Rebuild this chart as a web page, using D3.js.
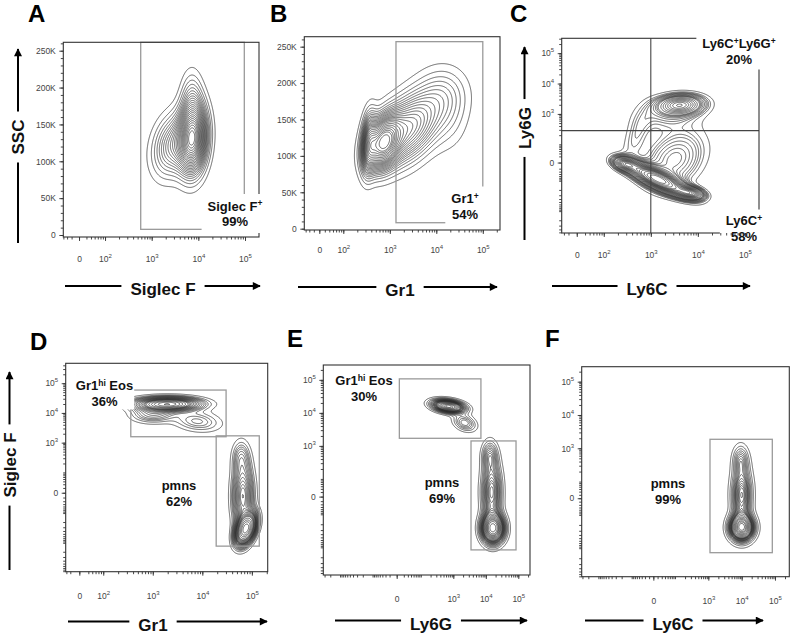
<!DOCTYPE html>
<html><head><meta charset="utf-8">
<script src="https://cdn.jsdelivr.net/npm/d3@7"></script>
<style>
body{margin:0;background:#fff}
svg{display:block}
text{font-family:"Liberation Sans",Arial,Helvetica,sans-serif}
</style>
</head><body>
<svg id="c" width="794" height="636"></svg>
<script>
// ===================== DATA =====================
const panelLetters = ["A","B","C","D","E","F"];
const xTitles = ["Siglec F","Gr1","Ly6C","Gr1","Ly6G","Ly6C"];
const yTitles = ["SSC", null, "Ly6G", "Siglec F", null, null];

// display units: decades (log / biexponential axes) or thousands (SSC)
const xDomains = [[1.106,5.30],[1.161,5.37],[1.106,5.30],[1.242,5.32],[-1.0,5.36],[-0.8,5.43]];
const yDomains = [[-2.7,261.4],[-1.8,263.7],[-0.92,5.49],[-1.34,5.67],[-0.91,5.45],[-0.856,5.45]];
const xZero = [1.443,1.484,1.426,1.517,1.258,1.35];
const yZero = [null,null,1.40,1.316,1.464,1.5];

const xTickLabels = [
  [[1.443,"0"],[2,"10^2"],[3,"10^3"],[4,"10^4"],[5,"10^5"]],
  [[1.484,"0"],[2,"10^2"],[3,"10^3"],[4,"10^4"],[5,"10^5"]],
  [[1.426,"0"],[2,"10^2"],[3,"10^3"],[4,"10^4"],[5,"10^5"]],
  [[1.517,"0"],[2,"10^2"],[3,"10^3"],[4,"10^4"],[5,"10^5"]],
  [[1.258,"0"],[3,"10^3"],[4,"10^4"],[5,"10^5"]],
  [[1.35,"0"],[3,"10^3"],[4,"10^4"],[5,"10^5"]]
];
const sscTickLabels = [[0,"0"],[50,"50K"],[100,"100K"],[150,"150K"],[200,"200K"],[250,"250K"]];
const yTickLabels = [
  sscTickLabels, sscTickLabels,
  [[1.40,"0"],[3,"10^3"],[4,"10^4"],[5,"10^5"]],
  [[1.316,"0"],[3,"10^3"],[4,"10^4"],[5,"10^5"]],
  [[1.464,"0"],[3,"10^3"],[4,"10^4"],[5,"10^5"]],
  [[1.5,"0"],[3,"10^3"],[4,"10^4"],[5,"10^5"]]
];

// populations: gaussian components (x, y in display units)
const popA = [
  {cx:3.88, cy:130, sx:0.19, sy:29, rho:0.10, w:1.0},
  {cx:3.45, cy:122, sx:0.27, sy:27, rho:0.25, w:0.35},
  {cx:3.86, cy:182, sx:0.15, sy:26, rho:0.00, w:0.18}
];
const popB = [
  {cx:2.85, cy:118, sx:0.22, sy:22, rho:0.30, w:1.0},
  {cx:2.55, cy:118, sx:0.10, sy:26, rho:0.20, w:0.5},
  {cx:3.40, cy:138, sx:0.45, sy:32, rho:0.45, w:0.6},
  {cx:4.15, cy:188, sx:0.35, sy:24, rho:0.00, w:0.12},
  {cx:4.30, cy:150, sx:0.28, sy:30, rho:0.10, w:0.08}
];
const popC = [
  {cx:3.62, cy:3.30, sx:0.30, sy:0.20, rho:0.1, w:0.45},
  {cx:3.40, cy:3.00, sx:0.45, sy:0.35, rho:0.2, w:0.10},
  {cx:3.15, cy:0.85, sx:0.38, sy:0.32, rho:-0.8, w:1.0},
  {cx:3.50, cy:1.50, sx:0.40, sy:0.60, rho:0.3, w:0.2},
  {cx:2.45, cy:1.35, sx:0.16, sy:0.14, rho:-0.3, w:0.4},
  {cx:3.85, cy:0.40, sx:0.18, sy:0.13, rho:-0.3, w:0.45},
  {cx:2.70, cy:2.30, sx:0.20, sy:0.60, rho:0.6, w:0.08}
];
const popD = [
  {cx:3.30, cy:4.30, sx:0.40, sy:0.14, rho:0.0, w:1.0},
  {cx:3.90, cy:3.72, sx:0.30, sy:0.22, rho:-0.2, w:0.2},
  {cx:3.00, cy:3.95, sx:0.28, sy:0.18, rho:0.0, w:0.25},
  {cx:4.88, cy:0.10, sx:0.12, sy:0.30, rho:0.4, w:2.0},
  {cx:4.82, cy:1.20, sx:0.13, sy:0.70, rho:0.0, w:0.6},
  {cx:4.78, cy:2.50, sx:0.11, sy:0.35, rho:0.0, w:0.2}
];
const popE = [
  {cx:2.85, cy:4.20, sx:0.30, sy:0.12, rho:-0.3, w:1.0},
  {cx:3.35, cy:3.70, sx:0.22, sy:0.16, rho:-0.3, w:0.25},
  {cx:4.22, cy:0.50, sx:0.21, sy:0.27, rho:0.0, w:1.2},
  {cx:4.18, cy:1.60, sx:0.19, sy:0.60, rho:0.0, w:0.5},
  {cx:4.12, cy:2.70, sx:0.15, sy:0.28, rho:0.0, w:0.25}
];
const popF = [
  {cx:4.00, cy:0.62, sx:0.22, sy:0.24, rho:0.0, w:1.0},
  {cx:4.00, cy:1.60, sx:0.19, sy:0.55, rho:0.0, w:0.45},
  {cx:3.97, cy:2.65, sx:0.15, sy:0.28, rho:0.0, w:0.2}
];
const populations = [popA, popB, popC, popD, popE, popF];

// gates: [xmin, xmax, ymin, ymax] in display units
const gates = [
  [[2.765,4.985,7.7,261.4]],
  [[3.133,5.0,8.2,256.9]],
  [],
  [[2.556,4.48,3.20,4.77],[4.28,5.15,-0.48,3.23]],
  [[1.34,3.85,3.23,5.03],[3.545,4.93,-0.15,3.15]],
  [[3.05,4.92,-0.135,3.27]]
];
const quadrantC = [3.0, 2.45];

const gateTexts = [
  [["Siglec F^{+}","99%"]],
  [["Gr1^{+}","54%"]],
  [["Ly6C^{+}Ly6G^{+}","20%"],["Ly6C^{+}","58%"]],
  [["Gr1^{hi} Eos","36%"],["pmns","62%"]],
  [["Gr1^{hi} Eos","30%"],["pmns","69%"]],
  [["pmns","99%"]]
];

// ===================== LAYOUT =====================
const frames = [
  [63.3,42.3,259,237],[304.3,36.7,500,230],[561.7,38.3,759,233],
  [65.7,363.3,267.7,571.7],[323.3,365,530,575],[581.7,366.7,789.3,576.7]
];
const letterPos = [[28,22],[270,22],[510,22],[30,350],[287,347],[545,347]];
const gateTextPos = [
  [[235,210.5]],
  [[465,203]],
  [[739,48],[744,225]],
  [[104.5,390],[179,490]],
  [[364,385],[442,487]],
  [[668,488]]
];
const gateTextPad = [[6,4],[6,4],[6,3],[1,1],[1,1],[1,1]];
const xTitleLayout = [
  {cx:163,y:286,x0:65,x1:260},{cx:400,y:287,x0:298,x1:497},{cx:647,y:286,x0:552,x1:750},
  {cx:153,y:621.5,x0:68,x1:267},{cx:431,y:620.5,x0:335,x1:527},{cx:673,y:620.5,x0:585,x1:763}
];
const yTitleLayout = [
  {x:18,cy:137,y0:243,y1:49}, null, {x:524.5,cy:128,y0:240,y1:47},
  {x:9.5,cy:465,y0:570,y1:372}, null, null
];
const tickLabelGap = [15,13,15,17,17,17];
const LEVELS = d3.range(1,25).map(k => k*0.04);

// ===================== DRAW =====================
const svg = d3.select("#c");
const defs = svg.append("defs");
defs.append("marker").attr("id","arr").attr("viewBox","0 0 10 10").attr("refX",9).attr("refY",5)
  .attr("markerWidth",9).attr("markerHeight",8).attr("markerUnits","userSpaceOnUse").attr("orient","auto")
  .append("path").attr("d","M0,0L10,5L0,10z").attr("fill","#000");

function richText(sel, str, supSize, supDy) {
  const parts = str.split(/(\^\{[^}]*\})/).filter(s => s.length);
  let raised = false;
  parts.forEach(p => {
    if (p.startsWith("^{")) {
      sel.append("tspan").attr("font-size", supSize).attr("dy", -supDy).text(p.slice(2,-1));
      raised = true;
    } else {
      const t = sel.append("tspan").text(p);
      if (raised) { t.attr("dy", supDy); raised = false; }
    }
  });
}

function logMinor(zero, lo, hi) {
  const out = [];
  for (let d = Math.floor(zero); d <= 5; d++) for (let k = 1; k <= 9; k++) {
    const p = d + Math.log10(k);
    if (p > zero + 0.1 && p <= hi) out.push(p);
  }
  const mir = out.map(p => 2*zero - p).filter(p => p >= lo);
  return out.concat(mir, [zero]);
}

function gridDensity(comps, xs, ys, x0, y0, w, h) {
  const v = new Float64Array(w*h);
  for (let j = 0; j < h; j++) {
    const yv = ys.invert(y0 + j + 0.5);
    for (let i = 0; i < w; i++) {
      const xv = xs.invert(x0 + i + 0.5);
      let s = 0;
      for (const c of comps) {
        const dx = (xv - c.cx)/c.sx, dy = (yv - c.cy)/c.sy, r = c.rho;
        s += c.w * Math.exp(-0.5*(dx*dx - 2*r*dx*dy + dy*dy)/(1 - r*r));
      }
      v[j*w + i] = s;
    }
  }
  return v;
}

function probThresholds(v, levels) {
  const s = Array.from(v).sort((a,b) => b - a);
  const total = d3.sum(s);
  const out = []; let cum = 0, li = 0;
  const targets = levels.slice().sort((a,b)=>a-b);
  for (let k = 0; k < s.length && li < targets.length; k++) {
    cum += s[k];
    while (li < targets.length && cum >= targets[li]*total) { out.push(s[k]); li++; }
  }
  return out;
}

for (let p = 0; p < 6; p++) {
  const [L,T,R,B] = frames[p];
  const g = svg.append("g");
  const xs = d3.scaleLinear().domain(xDomains[p]).range([L,R]);
  const ys = d3.scaleLinear().domain(yDomains[p]).range([B,T]);

  // contours
  const x0 = Math.round(L), y0 = Math.round(T);
  const w = Math.round(R) - x0, h = Math.round(B) - y0;
  const vals = gridDensity(populations[p], xs, ys, x0, y0, w, h);
  const th = probThresholds(vals, LEVELS);
  const cs = d3.contours().size([w,h]).thresholds(th)(vals);
  g.append("g").attr("transform",`translate(${x0},${y0})`)
    .selectAll("path").data(cs).join("path")
    .attr("d", d3.geoPath()).attr("fill","none").attr("stroke","#2a2a2a").attr("stroke-width",0.7);

  // gates
  gates[p].forEach(gt => {
    g.append("rect").attr("x", xs(gt[0])).attr("y", ys(gt[3]))
      .attr("width", xs(gt[1]) - xs(gt[0])).attr("height", ys(gt[2]) - ys(gt[3]))
      .attr("fill","none").attr("stroke","#9a9a9a").attr("stroke-width",1.3);
  });
  if (p === 2) {
    g.append("line").attr("x1", xs(quadrantC[0])).attr("x2", xs(quadrantC[0])).attr("y1",T).attr("y2",B)
      .attr("stroke","#444").attr("stroke-width",1.1);
    g.append("line").attr("x1",L).attr("x2",R).attr("y1", ys(quadrantC[1])).attr("y2", ys(quadrantC[1]))
      .attr("stroke","#444").attr("stroke-width",1.1);
  }

  // frame
  g.append("rect").attr("x",L).attr("y",T).attr("width",R-L).attr("height",B-T)
    .attr("fill","none").attr("stroke","#333").attr("stroke-width",1.1);

  // gate labels with white background
  gateTexts[p].forEach((lines, k) => {
    const [cx, by] = gateTextPos[p][k];
    const lg = g.append("g");
    const bg = lg.append("rect").attr("fill","#fff");
    lines.forEach((ln, i) => {
      const t = lg.append("text").attr("x",cx).attr("y", by + i*15.5)
        .attr("text-anchor","middle").attr("font-size",13).attr("font-weight","bold").attr("fill","#111");
      richText(t, ln, 8.5, 4.5);
    });
    const bb = lg.node().getBBox();
    const [px,py] = gateTextPad[p];
    bg.attr("x", bb.x - px).attr("y", bb.y - py).attr("width", bb.width + 2*px).attr("height", bb.height + 2*py);
  });

  // axes
  const xt = xTickLabels[p];
  const xMinor = logMinor(xZero[p], xDomains[p][0], xDomains[p][1]);
  const xMinAx = g.append("g").attr("transform",`translate(0,${B})`)
    .call(d3.axisBottom(xs).tickValues(xMinor).tickSize(2.5).tickFormat(""));
  const xAx = g.append("g").attr("transform",`translate(0,${B})`)
    .call(d3.axisBottom(xs).tickValues(xt.map(d=>d[0])).tickSize(4).tickPadding(tickLabelGap[p])
      .tickFormat((d,i) => xt[i][1]));
  let yMinor;
  if (yZero[p] === null) yMinor = d3.range(0, 261, 10);
  else yMinor = logMinor(yZero[p], yDomains[p][0], yDomains[p][1]);
  const yMinAx = g.append("g").attr("transform",`translate(${L},0)`)
    .call(d3.axisLeft(ys).tickValues(yMinor).tickSize(2.5).tickFormat(""));
  const yt = yTickLabels[p];
  const yAx = g.append("g").attr("transform",`translate(${L},0)`)
    .call(d3.axisLeft(ys).tickValues(yt.map(d=>d[0])).tickSize(4).tickPadding(3.5)
      .tickFormat((d,i) => yt[i][1]));
  [xMinAx,xAx,yMinAx,yAx].forEach(a => {
    a.select(".domain").remove();
    a.selectAll(".tick line").attr("stroke","#333").attr("stroke-width",0.9);
  });
  [xAx,yAx].forEach(a => {
    a.selectAll(".tick text").attr("font-size",8.5).attr("fill","#444")
      .attr("font-family",'"Liberation Sans",Arial,sans-serif')
      .each(function(){
        const t = d3.select(this); const s = t.text();
        const m = s.match(/^(\d+)\^(\d+)$/);
        if (m) { t.text(null); richText(t, m[1] + "^{" + m[2] + "}", 6, 4); }
      });
  });

  // x title with arrow
  const xl = xTitleLayout[p];
  g.append("line").attr("x1",xl.x0).attr("x2",xl.x1).attr("y1",xl.y).attr("y2",xl.y)
    .attr("stroke","#000").attr("stroke-width",2).attr("marker-end","url(#arr)");
  const xtg = g.append("g");
  const xbg = xtg.append("rect").attr("fill","#fff");
  const xtt = xtg.append("text").attr("x",xl.cx).attr("y",xl.y+9).attr("text-anchor","middle")
    .attr("font-size",17).attr("font-weight","bold").attr("fill","#111").text(xTitles[p]);
  const xb = xtt.node().getBBox();
  xbg.attr("x",xb.x-9).attr("y",xl.y-4).attr("width",xb.width+18).attr("height",8);

  // y title with arrow
  const yl = yTitleLayout[p];
  if (yl) {
    g.append("line").attr("x1",yl.x).attr("x2",yl.x).attr("y1",yl.y0).attr("y2",yl.y1)
      .attr("stroke","#000").attr("stroke-width",2).attr("marker-end","url(#arr)");
    const ytg = g.append("g").attr("transform",`translate(${yl.x},${yl.cy}) rotate(-90)`);
    const ybg = ytg.append("rect").attr("fill","#fff");
    const ytt = ytg.append("text").attr("x",0).attr("y",0).attr("dy","0.36em").attr("text-anchor","middle")
      .attr("font-size",17).attr("font-weight","bold").attr("fill","#111").text(yTitles[p]);
    const yb = ytt.node().getBBox();
    ybg.attr("x",yb.x-8).attr("y",-4).attr("width",yb.width+16).attr("height",8);
  }

  // panel letter
  svg.append("text").attr("x",letterPos[p][0]).attr("y",letterPos[p][1])
    .attr("font-size",24).attr("font-weight","bold").attr("fill","#000").text(panelLetters[p]);
}
</script>
</body></html>
